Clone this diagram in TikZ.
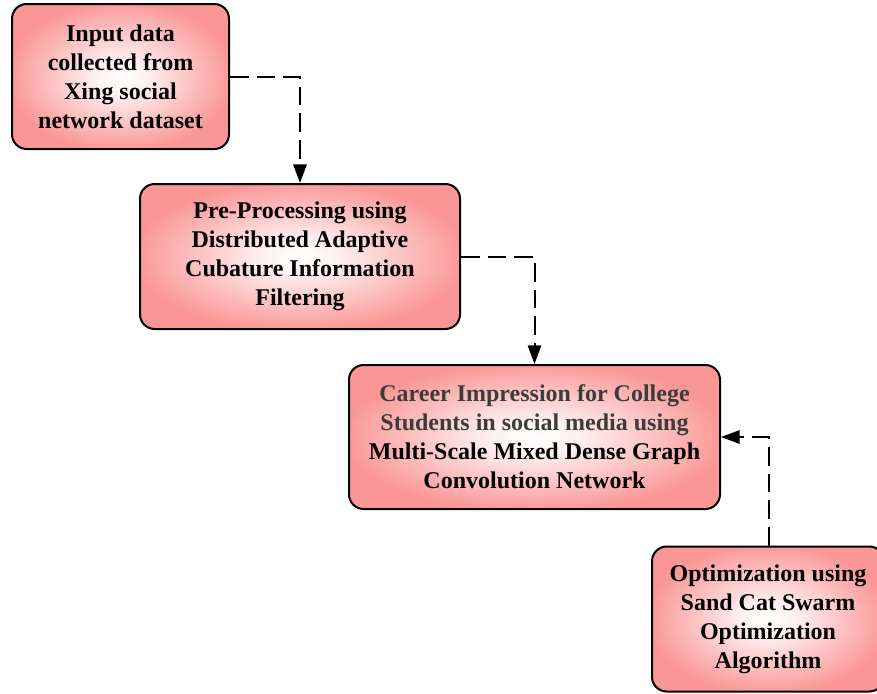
\documentclass[tikz,border=0pt]{standalone}
\usepackage{fontspec}
\setmainfont{Liberation Serif}
\usetikzlibrary{arrows.meta}
\definecolor{pinkout}{RGB}{250,150,150}
\definecolor{graytext}{RGB}{60,60,60}
\pgfdeclareradialshading{boxshade}{\pgfpoint{0bp}{0bp}}{color(0bp)=(white); color(6bp)=(white!85!pinkout); color(26bp)=(pinkout); color(50bp)=(pinkout)}
\tikzset{
  stepbox/.style={draw=black, line width=1.5pt, rounded corners=11pt,
    shading=boxshade, align=center,
    font=\fontsize{18}{21.75}\selectfont\bfseries, inner sep=0pt},
  flow/.style={line width=1.5pt, dash pattern=on 14pt off 6pt,
    -{Triangle[length=14pt,width=10pt]}}
}
\begin{document}
\begin{tikzpicture}[x=0.75pt,y=-0.75pt]
\useasboundingbox (0,0) rectangle (877,693);
\node[stepbox, minimum width=217*0.75pt, minimum height=145*0.75pt] (b1) at (120.5,76.5)
  {Input data\\collected from\\Xing social\\network dataset};
\node[stepbox, minimum width=320*0.75pt, minimum height=145*0.75pt] (b2) at (300,256.5)
  {Pre-Processing using\\Distributed Adaptive\\Cubature Information\\Filtering};
\node[stepbox, minimum width=371*0.75pt, minimum height=144*0.75pt] (b3) at (534.5,437)
  {\textcolor{graytext}{Career Impression for College}\\\textcolor{graytext}{Students in social media using}\\Multi-Scale Mixed Dense Graph\\Convolution Network};
\node[stepbox, minimum width=232*0.75pt, minimum height=145*0.75pt] (b4) at (768,619)
  {Optimization using\\Sand Cat Swarm\\Optimization\\Algorithm};
\draw[flow] (b1.east) -| (b2.north);
\draw[flow] (b2.east) -| (b3.north);
\draw[flow] ([xshift=0.75pt]b4.north) |- (b3.east);
\end{tikzpicture}
\end{document}
